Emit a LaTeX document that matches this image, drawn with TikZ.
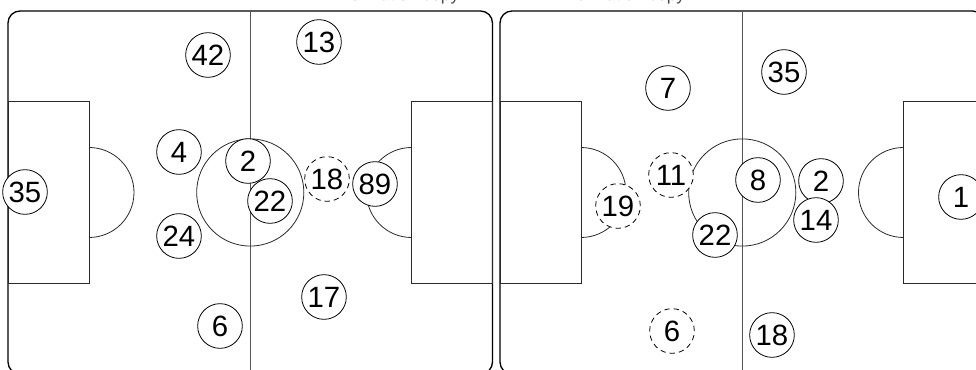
\documentclass[tikz,border=0pt]{standalone}
\usepackage{fontspec}
\setmainfont{Liberation Sans}
\usetikzlibrary{positioning}
\definecolor{pitchline}{HTML}{2A2A2A}
\definecolor{halfway}{HTML}{555555}
\definecolor{caption}{HTML}{4A4A4A}

\begin{document}
\begin{tikzpicture}[x=0.75pt,y=-0.75pt,
  player/.style={circle,draw=black,fill=white,line width=.6pt,minimum size=33.5pt,inner sep=0pt,font=\fontsize{22}{22}\selectfont},
  sub/.style={player,dash pattern=on 4pt off 3pt},
  marking/.style={draw=pitchline,line width=.6pt}]
  \useasboundingbox (0,0) rectangle (976,370);
  \clip (0,0) rectangle (976,370);
  \node[anchor=base east,text=caption,font=\fontsize{13}{13}\selectfont] (captionL) at (464,0.5) {Formation copy};
  \node[anchor=base west,text=caption,font=\fontsize{13}{13}\selectfont] (captionR) at (561,0.5) {Formation copy};
  \foreach \o in {0,492} {
    \draw[black,line width=1pt,rounded corners=9pt] (8+\o,11) rectangle (492.5+\o,374);
    \draw[halfway,line width=.8pt] (250.25+\o,11)--(250.25+\o,374);
    \draw[marking] (250.25+\o,192.5) circle[radius=40.2pt];
    \draw[marking] (8+\o,101.7) rectangle (89+\o,283.3);
    \draw[marking] (411.5+\o,101.7) rectangle (492.5+\o,283.3);
    \draw[marking] (89+\o,147.5) arc[start angle=90,end angle=-90,radius=33.75pt];
    \draw[marking] (411.5+\o,147.5) arc[start angle=90,end angle=270,radius=33.75pt];
  }
  \foreach \n/\x/\y in {35/25/192,4/179/152,24/179/236,2/248/161,22/270/201,89/375/184,42/208/55,13/319/42,17/324/297,6/220/326}
    \node[player] (l\n) at (\x,\y) {\n};
  \node[sub] (l18) at (327,179) {18};
  \foreach \n/\x/\y in {7/668/88,35/784/72,8/758/180,2/821/181,14/816/220,22/715/235,1/961/197,18/772/335}
    \node[player] (r\n) at (\x,\y) {\n};
  \foreach \n/\x/\y in {11/671/175,19/618/206,6/672/331}
    \node[sub] (r\n) at (\x,\y) {\n};
\end{tikzpicture}
\end{document}
